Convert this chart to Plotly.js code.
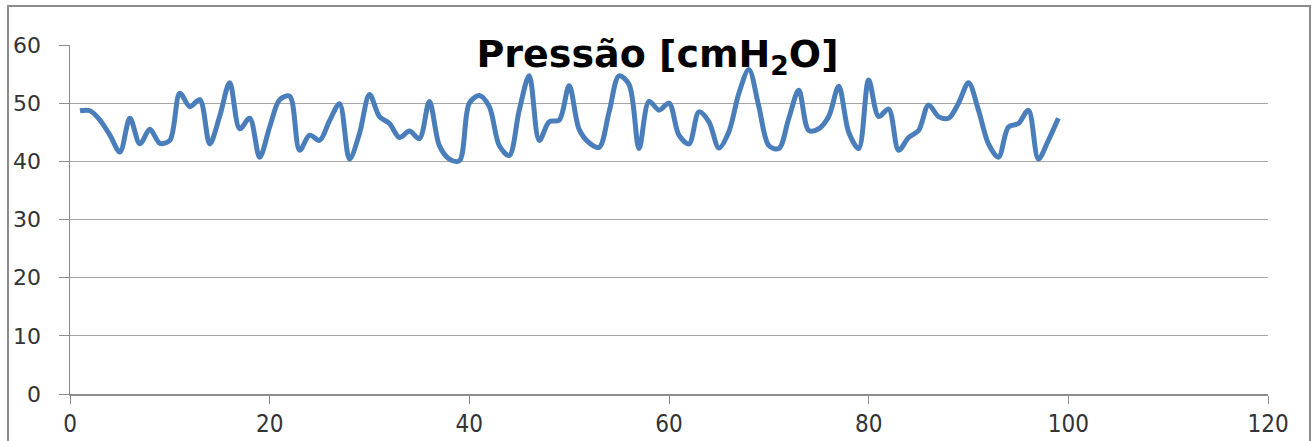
<!DOCTYPE html>
<html>
<head>
<meta charset="utf-8">
<script src="https://cdn.plot.ly/plotly-3.0.1.min.js"></script>
<style>
  html, body { margin: 0; padding: 0; background: #fff; }
  #wrap { position: relative; width: 1315px; height: 441px; overflow: hidden; }
  #chart { width: 1315px; height: 441px; }
  #frame { position: absolute; left: 7px; top: 5px; width: 1300px; height: 460px;
           border: 2px solid #8c8c8c; pointer-events: none; }
</style>
</head>
<body>
<div id="wrap">
  <div id="chart"></div>
  <div id="frame"></div>
</div>
<script>
const sampleIndex = [];
for (let i = 1; i <= 99; i++) sampleIndex.push(i);

const pressure = [
  48.7, 48.7, 47.1, 44.5, 41.6, 47.4, 43.0, 45.5, 43.1, 43.6,
  51.7, 49.4, 50.6, 43.0, 47.8, 53.5, 45.6, 47.4, 40.7, 45.9,
  50.6, 51.2, 41.9, 44.5, 43.6, 47.0, 49.9, 40.4, 44.8, 51.5,
  47.7, 46.5, 44.1, 45.2, 43.9, 50.3, 42.7, 40.4, 40.1, 50.0,
  51.3, 49.4, 42.7, 41.0, 48.8, 54.7, 43.6, 46.8, 47.1, 53.0,
  45.5, 43.2, 42.4, 48.5, 54.7, 53.2, 42.2, 50.3, 48.8, 50.0,
  44.5, 43.0, 48.5, 46.8, 42.3, 45.1, 51.7, 55.8, 49.4, 42.7,
  42.2, 47.4, 52.2, 45.3, 45.6, 47.7, 52.9, 45.0, 42.2, 54.0,
  47.7, 49.0, 41.9, 44.1, 45.3, 49.7, 47.7, 47.4, 50.0, 53.5,
  48.8, 43.0, 40.7, 45.9, 46.5, 48.8, 40.4, 43.6, 47.4
];

const xTicks = [0, 20, 40, 60, 80, 100, 120];
const yTicks = [0, 10, 20, 30, 40, 50, 60];
const titleText = 'Pressão [cmH<sub>2</sub>O]';

const trace = {
  x: sampleIndex,
  y: pressure,
  type: 'scatter',
  mode: 'lines',
  line: { color: '#4a7ebb', width: 5, shape: 'spline', smoothing: 0.9 },
  hoverinfo: 'x+y'
};

const layout = {
  width: 1315, height: 441,
  margin: { l: 70, r: 47, t: 45, b: 47, pad: 0 },
  paper_bgcolor: '#ffffff', plot_bgcolor: '#ffffff',
  showlegend: false,
  title: {
    text: titleText,
    font: { family: '"DejaVu Sans", sans-serif', size: 38, color: '#000000', weight: 'bold' },
    x: 0.5, xref: 'container', xanchor: 'center',
    y: 1 - 54 / 441, yref: 'container', yanchor: 'middle'
  },
  xaxis: {
    range: [0, 120], tickvals: xTicks, ticktext: xTicks.map(String),
    showgrid: false, zeroline: false,
    showline: true, linecolor: '#8c8c8c', linewidth: 1.5,
    ticks: 'outside', ticklen: 8, tickcolor: '#8c8c8c', tickwidth: 1,
    tickfont: { family: '"Liberation Sans Narrow", "DejaVu Sans Condensed", sans-serif', size: 24, color: '#333333' },
    fixedrange: true
  },
  yaxis: {
    range: [0, 60], tickvals: yTicks, ticktext: yTicks.map(String),
    showgrid: true, gridcolor: '#a6a6a6', gridwidth: 1,
    zeroline: false,
    showline: true, linecolor: '#8c8c8c', linewidth: 1.5,
    ticks: 'outside', ticklen: 10, tickcolor: '#8c8c8c', tickwidth: 1,
    ticklabelstandoff: 13,
    tickfont: { family: '"DejaVu Sans", sans-serif', size: 22, color: '#333333' },
    fixedrange: true
  }
};

Plotly.newPlot('chart', [trace], layout, { displayModeBar: false, staticPlot: true });
</script>
</body>
</html>
